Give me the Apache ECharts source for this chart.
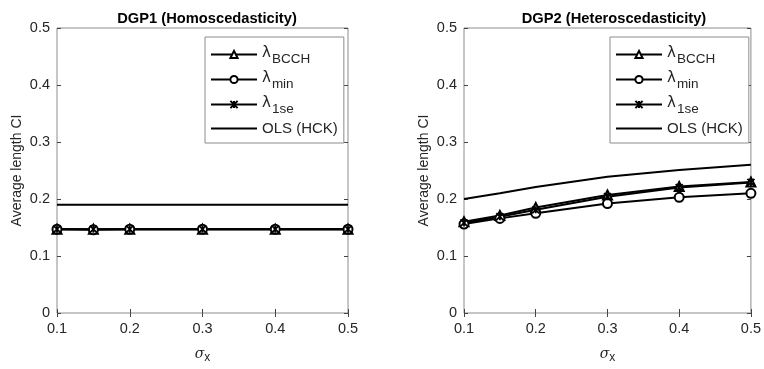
<!DOCTYPE html>
<html><head><meta charset="utf-8">
<script src="https://cdn.jsdelivr.net/npm/echarts@6/dist/echarts.min.js"></script>
<style>html,body{margin:0;padding:0;background:#fff}#c{width:764px;height:369px}</style>
</head><body><div id="c"></div>
<script>
const sigmaX = [0.1, 0.15, 0.2, 0.3, 0.4, 0.5];
const xTicks = ['0.1','0.2','0.3','0.4','0.5'];
const yTicks = ['0','0.1','0.2','0.3','0.4','0.5'];
// DGP1
const dgp1_bcch = [0.147, 0.147, 0.147, 0.147, 0.147, 0.147];
const dgp1_min  = [0.147, 0.146, 0.147, 0.147, 0.147, 0.147];
const dgp1_1se  = [0.147, 0.147, 0.147, 0.147, 0.147, 0.147];
const dgp1_ols  = [0.190, 0.190, 0.190, 0.190, 0.190, 0.190];
// DGP2
const dgp2_bcch = [0.160, 0.171, 0.185, 0.207, 0.222, 0.230];
const dgp2_min  = [0.156, 0.166, 0.175, 0.192, 0.203, 0.210];
const dgp2_1se  = [0.158, 0.169, 0.181, 0.204, 0.220, 0.229];
const dgp2_ols  = [0.200, 0.210, 0.221, 0.239, 0.251, 0.260];
const titles = ['DGP1 (Homoscedasticity)', 'DGP2 (Heteroscedasticity)'];
const names = ['λ_BCCH', 'λ_min', 'λ_1se', 'OLS (HCK)'];

const FONT = 'Liberation Sans, Arial, sans-serif';
const pairs = ys => sigmaX.map((x,i)=>[x, ys[i]]);
const grids = [
  {left:57, right:416, top:28, bottom:49, show:true, borderColor:'#8c8c8c', borderWidth:1},
  {left:464, right:10, top:28, bottom:49, show:true, borderColor:'#8c8c8c', borderWidth:1}
];
const xAxes = [], yAxes = [];
[0,1].forEach(g=>{
  xAxes.push({type:'value', gridIndex:g, min:0.1, max:0.5, interval:0.1, position:'bottom',
    axisLine:{show:false}, splitLine:{show:false},
    axisTick:{inside:true, length:4, lineStyle:{color:'#444'}},
    axisLabel:{color:'#262626', fontSize:14.5, fontFamily:FONT, margin:8,
      formatter:v=>xTicks[Math.round((v-0.1)*10)]},
    name:'{s|σ}{b|x}', nameLocation:'middle', nameGap:31,
    nameTextStyle:{color:'#262626', rich:{s:{fontSize:14, fontStyle:'italic', fontFamily:'DejaVu Serif, serif', color:'#262626'}, b:{fontSize:12, fontFamily:FONT, padding:[8,0,0,0], color:'#262626'}}}});
  xAxes.push({type:'value', gridIndex:g, min:0.1, max:0.5, interval:0.1, position:'top',
    axisLine:{show:false}, splitLine:{show:false}, axisLabel:{show:false},
    axisTick:{inside:true, length:4, lineStyle:{color:'#444'}}});
  yAxes.push({type:'value', gridIndex:g, min:0, max:0.5, interval:0.1, position:'left',
    axisLine:{show:false}, splitLine:{show:false},
    axisTick:{inside:true, length:4, lineStyle:{color:'#444'}},
    axisLabel:{color:'#262626', fontSize:14.5, fontFamily:FONT, margin:7,
      formatter:v=>yTicks[Math.round(v*10)]},
    name:'Average length CI', nameLocation:'middle', nameGap:33, nameRotate:90,
    nameTextStyle:{color:'#262626', fontSize:14, fontFamily:FONT}});
  yAxes.push({type:'value', gridIndex:g, min:0, max:0.5, interval:0.1, position:'right',
    axisLine:{show:false}, splitLine:{show:false}, axisLabel:{show:false},
    axisTick:{inside:true, length:4, lineStyle:{color:'#444'}}});
});
const xPath = 'path://M0,0L10,10M10,0L0,10M5,0L5,10';
function mk(name, data, g, sym, size){
  const s = {name:name, type:'line', data:pairs(data), xAxisIndex:g*2, yAxisIndex:g*2,
    lineStyle:{color:'#000', width:2}, itemStyle:{color:'#000', borderColor:'#000', borderWidth:1.8},
    symbol:sym, symbolSize:size, showSymbol: sym!=='none', animation:false, z: 3};
  if (sym==='none') s.itemStyle = {color:'#000'};
  return s;
}
const series = [];
const sets = [[dgp1_bcch,dgp1_min,dgp1_1se,dgp1_ols],[dgp2_bcch,dgp2_min,dgp2_1se,dgp2_ols]];
[0,1].forEach(g=>{
  const d = sets[g];
  series.push(mk(names[0], d[0], g, 'emptyTriangle', 9));
  series.push(mk(names[1], d[1], g, 'emptyCircle', 9));
  series.push(mk(names[2], d[2], g, xPath, 7));
  series.push(mk(names[3], d[3], g, 'none', 0));
});
const legendRich = {
  l:{fontSize:15, fontFamily:'DejaVu Sans, sans-serif', color:'#262626', padding:[0,1,2,0]},
  sb:{fontSize:13.5, fontFamily:FONT, color:'#262626', padding:[9,0,0,0]},
  t:{fontSize:15, fontFamily:FONT, color:'#262626'}
};
const fmt = n => { const p = n.split('_'); return p.length>1 ? '{l|'+p[0]+'}{sb|'+p[1]+'}' : '{t|'+n+'}'; };
const legendData = names.map((n,i)=> i===3 ? {name:n, itemStyle:{opacity:0}} : {name:n});
const legends = [205, 610].map((lx,g)=>({
  left:lx, top:37, orient:'vertical', data:legendData,
  backgroundColor:'#fff', borderColor:'#8c8c8c', borderWidth:1,
  padding:[9,6,7,5], itemGap:5, itemWidth:46, itemHeight:9,
  formatter:fmt, textStyle:{rich:legendRich, color:'#262626'},
  selectedMode:false
}));
const chart = echarts.init(document.getElementById('c'));
chart.setOption({
  animation:false,
  title: titles.map((t,g)=>({text:t, left: g===0?202:609, top:6, textAlign:'center',
    textStyle:{fontSize:14.7, fontWeight:'bold', fontFamily:FONT, color:'#000'}})),
  grid: grids, xAxis: xAxes, yAxis: yAxes, legend: legends, series: series
});
</script></body></html>
